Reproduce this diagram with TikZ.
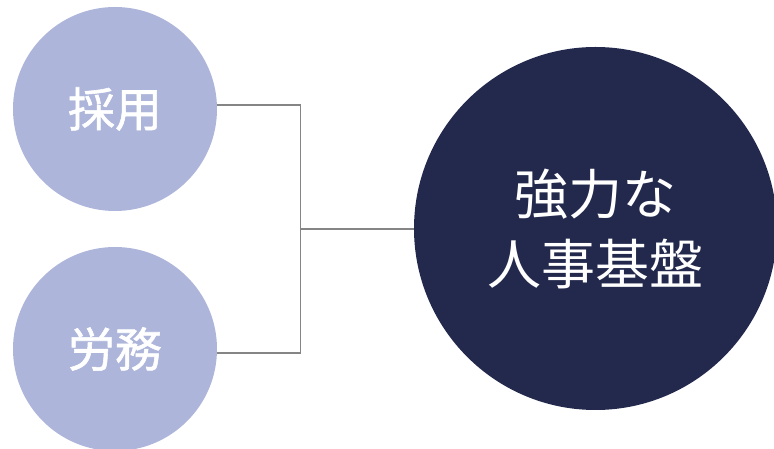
\documentclass[tikz,border=0pt]{standalone}
\usepackage{fontspec}
\newfontfamily\jp{Noto Sans CJK JP}
\newfontfamily\jpmed{Noto Sans CJK JP}[FakeBold=1.2]
\usepackage{tikz}
\usetikzlibrary{calc}

\definecolor{lightblue}{HTML}{ADB5DA}
\definecolor{darknavy}{HTML}{23294D}
\definecolor{linegray}{HTML}{858585}

\begin{document}
\begin{tikzpicture}[x=1pt,y=1pt,
    small/.style={circle, fill=lightblue, minimum size=204pt, inner sep=0pt,
        text=white, font=\jpmed\fontsize{47}{56}\selectfont},
    big/.style={circle, fill=darknavy, minimum size=363pt, inner sep=0pt,
        text=white, align=center, font=\jp\fontsize{54}{70}\selectfont},
    link/.style={draw=linegray, line width=1.6pt}]
    \useasboundingbox (0,0) rectangle (774,449);

    % Draw the circles
    \node[small] (saiyo) at (115,340) {採用};
    \node[small] (romu) at (115,100) {労務};
    \node[big] (kiban) at (595.5,220.5) {強力な\\人事基盤};

    % Draw the connectors
    \coordinate (join) at (300.5,220);
    \draw[link] ([yshift=4pt]saiyo.east) -| (join) |- ([yshift=-4pt]romu.east);
    \draw[link] (join) -- (kiban.west |- join);
\end{tikzpicture}
\end{document}
